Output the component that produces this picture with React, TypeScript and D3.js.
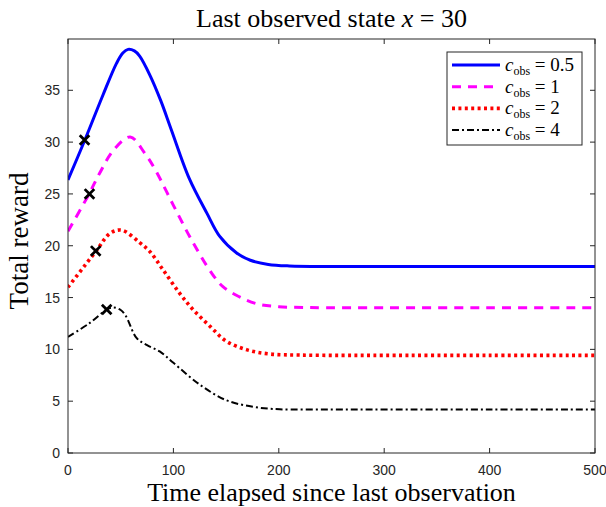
import React from 'react';
import * as d3 from 'd3';

const blueT = [0, 16, 33, 46, 52, 57, 63, 68, 78, 88, 98, 115, 132, 144, 160, 173, 190, 210, 250, 300, 400, 500];
const blueV = [26.35, 30.2, 34.5, 37.6, 38.6, 38.95, 38.8, 38.3, 36.4, 34.0, 31.2, 26.5, 23.1, 20.9, 19.3, 18.6, 18.2, 18.05, 18.0, 18.0, 18.0, 18.0];

const magentaT = [0, 20, 30, 43, 59, 73, 83, 100, 117, 136, 147, 162, 179, 200, 230, 300, 400, 500];
const magentaV = [21.4, 25.0, 27.0, 29.2, 30.5, 28.9, 27.3, 23.9, 20.6, 17.4, 16.05, 15.1, 14.4, 14.12, 14.03, 14.02, 14.02, 14.02];

const redT = [0, 26, 40, 51, 68, 78, 90, 106, 119, 135, 150, 170, 192, 220, 260, 300, 400, 500];
const redV = [16.0, 19.4, 21.2, 21.5, 20.3, 19.4, 17.7, 15.4, 13.8, 12.2, 10.8, 9.95, 9.55, 9.45, 9.42, 9.42, 9.42, 9.42];

const blackT = [0, 20, 37, 43, 50, 55, 65, 75, 87, 100, 125, 150, 176, 201, 250, 300, 400, 500];
const blackV = [11.2, 12.5, 13.85, 14.05, 13.8, 13.2, 11.1, 10.4, 9.8, 8.7, 6.6, 5.1, 4.45, 4.22, 4.2, 4.2, 4.2, 4.2];

// observation markers
const markT = [15.7, 20.4, 26.3, 36.7];
const markV = [30.2, 25.0, 19.5, 13.85];

const xTicks = [0, 100, 200, 300, 400, 500];
const yTicks = [0, 5, 10, 15, 20, 25, 30, 35];
const legendLabels = ['0.5', '1', '2', '4'];

const W = 606;
const H = 507;
const margin = { top: 39, right: 11, bottom: 54, left: 68 };
const axisColor = '#262626';
const serif = '"Liberation Serif", "DejaVu Serif", serif';
const sans = '"Liberation Sans", Arial, sans-serif';

const seriesList = [
  { t: blueT, v: blueV, color: '#0000ff', width: 3, dash: undefined as string | undefined },
  { t: magentaT, v: magentaV, color: '#ff00ff', width: 3, dash: '9,7' },
  { t: redT, v: redV, color: '#ff0000', width: 3.6, dash: '3,3.4' },
  { t: blackT, v: blackV, color: '#000000', width: 2, dash: '7,3,2,3' },
];

export default function App() {
  const x = d3.scaleLinear().domain([0, 500]).range([margin.left, W - margin.right]);
  const y = d3.scaleLinear().domain([0, 39.95]).range([H - margin.bottom, margin.top]);

  const line = d3
    .line<[number, number]>()
    .x(d => x(d[0]))
    .y(d => y(d[1]))
    .curve(d3.curveCatmullRom.alpha(0.5));

  const [x0, x1] = x.range();
  const [y0, y1] = y.range();
  const tickLen = 5;

  const legX = 447;
  const legY = 52;
  const legW = 135;
  const legH = 93;
  const rowY = (i: number) => legY + 13 + i * 21.7;

  return (
    <svg width={W} height={H} style={{ position: 'absolute', left: 0, top: 0, background: '#fff' }}>
      <defs>
        <clipPath id="plotClip">
          <rect x={x0} y={y1} width={x1 - x0} height={y0 - y1} />
        </clipPath>
      </defs>
      <g clipPath="url(#plotClip)">
        {seriesList.map((s, i) => (
          <path
            key={i}
            d={line(s.t.map((t, j) => [t, s.v[j]] as [number, number])) || ''}
            fill="none"
            stroke={s.color}
            strokeWidth={s.width}
            strokeDasharray={s.dash}
            strokeLinejoin="round"
          />
        ))}
      </g>

      {markT.map((t, i) => {
        const cx = x(t);
        const cy = y(markV[i]);
        const r = 4.8;
        return (
          <path
            key={i}
            d={`M${cx - r},${cy - r}L${cx + r},${cy + r}M${cx - r},${cy + r}L${cx + r},${cy - r}`}
            stroke="#000"
            strokeWidth={2.8}
          />
        );
      })}

      {/* axes box */}
      <rect x={x0} y={y1} width={x1 - x0} height={y0 - y1} fill="none" stroke={axisColor} strokeWidth={1} />

      {xTicks.map(t => (
        <g key={t}>
          <line x1={x(t)} x2={x(t)} y1={y0} y2={y0 - tickLen} stroke={axisColor} />
          <line x1={x(t)} x2={x(t)} y1={y1} y2={y1 + tickLen} stroke={axisColor} />
          <text x={x(t)} y={y0 + 22} textAnchor="middle" fontFamily={sans} fontSize={14} fill={axisColor}>
            {t}
          </text>
        </g>
      ))}

      {yTicks.map(t => (
        <g key={t}>
          <line x1={x0} x2={x0 + tickLen} y1={y(t)} y2={y(t)} stroke={axisColor} />
          <line x1={x1} x2={x1 - tickLen} y1={y(t)} y2={y(t)} stroke={axisColor} />
          <text x={x0 - 8} y={y(t) + 5} textAnchor="end" fontFamily={sans} fontSize={14} fill={axisColor}>
            {t}
          </text>
        </g>
      ))}

      {/* title */}
      <text x={(x0 + x1) / 2} y={27} textAnchor="middle" fontFamily={serif} fontSize={26} fill="#000">
        Last observed state <tspan fontStyle="italic">x</tspan> = 30
      </text>

      {/* axis labels */}
      <text x={(x0 + x1) / 2} y={501} textAnchor="middle" fontFamily={serif} fontSize={26} fill="#000">
        Time elapsed since last observation
      </text>
      <text
        transform="translate(28,241) rotate(-90)"
        textAnchor="middle"
        fontFamily={serif}
        fontSize={27}
        fill="#000"
      >
        Total reward
      </text>

      {/* legend */}
      <rect x={legX} y={legY} width={legW} height={legH} fill="#fff" stroke={axisColor} strokeWidth={1} />
      {seriesList.map((s, i) => (
        <g key={i}>
          <line
            x1={legX + 5}
            x2={legX + 53}
            y1={rowY(i)}
            y2={rowY(i)}
            stroke={s.color}
            strokeWidth={s.width}
            strokeDasharray={s.dash}
          />
          <text x={legX + 58} y={rowY(i) + 6} fontFamily={serif} fontSize={19} fill="#000">
            <tspan fontStyle="italic">c</tspan>
            <tspan fontSize={12} dy={4}>obs</tspan>
            <tspan dy={-4}> = {legendLabels[i]}</tspan>
          </text>
        </g>
      ))}
    </svg>
  );
}
